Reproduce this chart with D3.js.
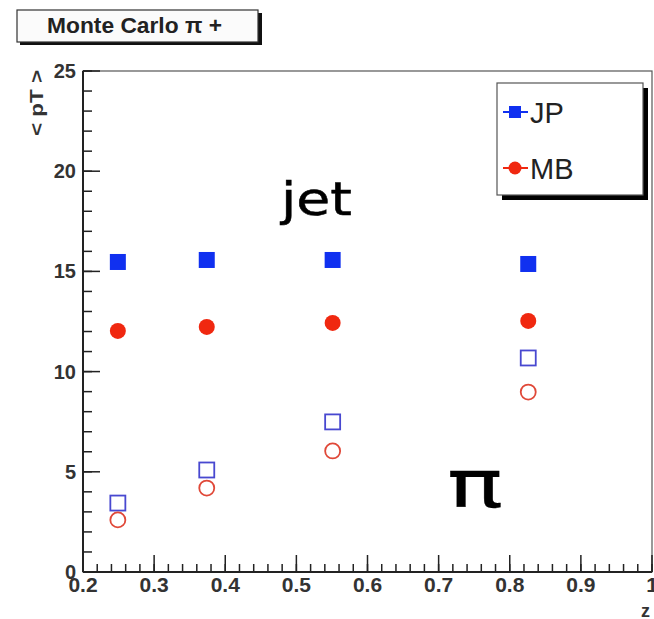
<!DOCTYPE html>
<html>
<head>
<meta charset="utf-8">
<script src="https://cdn.jsdelivr.net/npm/d3@7"></script>
<style>
  html, body { margin: 0; padding: 0; background: #fff; }
  svg { display: block; }
</style>
</head>
<body>
<svg id="chart" width="654" height="619"></svg>
<script>
// Mean transverse momentum vs z, Monte Carlo pi+
const zBins = [0.249, 0.374, 0.551, 0.826];
const jpJet = [15.47, 15.57, 15.57, 15.37];   // JP trigger, jet <pT>
const mbJet = [12.03, 12.23, 12.43, 12.53];   // MB trigger, jet <pT>
const jpPi  = [3.44, 5.09, 7.49, 10.68];      // JP trigger, pion <pT>
const mbPi  = [2.60, 4.19, 6.04, 8.98];       // MB trigger, pion <pT>
const xTicks = [0.2, 0.3, 0.4, 0.5, 0.6, 0.7, 0.8, 0.9, 1];
const yTicks = [0, 5, 10, 15, 20, 25];
const legendLabels = ["JP", "MB"];

const BLUE = "#1030f0", RED = "#f02810";
const BLUE_OPEN = "#4848d0", RED_OPEN = "#e04838";

const svg = d3.select("#chart");
const frameL = 83, frameR = 652, frameT = 71, frameB = 572;

const x = d3.scaleLinear().domain([0.2, 1]).range([frameL, frameR]);
const y = d3.scaleLinear().domain([0, 25]).range([frameB, frameT]);

// Title box with drop shadow
const tb = svg.append("g");
tb.append("rect").attr("x", 20).attr("y", 13).attr("width", 242).attr("height", 32).attr("fill", "#111");
tb.append("rect").attr("x", 17).attr("y", 10).attr("width", 241).attr("height", 32)
  .attr("fill", "#fbfbfb").attr("stroke", "#333").attr("stroke-width", 1.2);
tb.append("text").attr("x", 47).attr("y", 33)
  .attr("font-family", "Liberation Sans, Arial, sans-serif").attr("font-weight", "bold")
  .attr("font-size", 22).attr("textLength", 175).attr("lengthAdjust", "spacingAndGlyphs")
  .attr("fill", "#222").text("Monte Carlo \u03c0 +");

// Frame
svg.append("rect").attr("x", frameL).attr("y", frameT).attr("width", frameR - frameL).attr("height", frameB - frameT)
  .attr("fill", "none").attr("stroke", "#555").attr("stroke-width", 1.2);

// Axes: major and minor ticks pointing inward
const axisColor = "#222";
const xMinor = d3.range(0.2, 1.0001, 0.02).map(v => +v.toFixed(2));
const yMinor = d3.range(0, 25.0001, 1);

const gx = svg.append("g");
gx.append("line").attr("x1", frameL).attr("x2", frameR).attr("y1", frameB).attr("y2", frameB)
  .attr("stroke", axisColor).attr("stroke-width", 2);
gx.selectAll("line.minor").data(xMinor).join("line").attr("class", "minor")
  .attr("x1", d => x(d)).attr("x2", d => x(d)).attr("y1", frameB).attr("y2", frameB - 8)
  .attr("stroke", axisColor).attr("stroke-width", 1.5);
gx.selectAll("line.major").data(xTicks).join("line").attr("class", "major")
  .attr("x1", d => x(d)).attr("x2", d => x(d)).attr("y1", frameB).attr("y2", frameB - 17)
  .attr("stroke", axisColor).attr("stroke-width", 1.5);
gx.selectAll("text").data(xTicks).join("text")
  .attr("x", d => x(d)).attr("y", 592).attr("text-anchor", "middle")
  .attr("font-family", "Liberation Sans, Arial, sans-serif").attr("font-weight", "bold")
  .attr("font-size", 21).attr("fill", "#333").text(d => d === 1 ? "1" : d3.format(".1f")(d));

const gy = svg.append("g");
gy.append("line").attr("x1", frameL).attr("x2", frameL).attr("y1", frameT).attr("y2", frameB)
  .attr("stroke", axisColor).attr("stroke-width", 2);
gy.selectAll("line.minor").data(yMinor).join("line").attr("class", "minor")
  .attr("x1", frameL).attr("x2", frameL + 9).attr("y1", d => y(d)).attr("y2", d => y(d))
  .attr("stroke", axisColor).attr("stroke-width", 1.5);
gy.selectAll("line.major").data(yTicks).join("line").attr("class", "major")
  .attr("x1", frameL).attr("x2", frameL + 17).attr("y1", d => y(d)).attr("y2", d => y(d))
  .attr("stroke", axisColor).attr("stroke-width", 1.5);
gy.selectAll("text").data(yTicks).join("text")
  .attr("x", 76).attr("y", d => y(d) + 7).attr("text-anchor", "end")
  .attr("font-family", "Liberation Sans, Arial, sans-serif").attr("font-weight", "bold")
  .attr("font-size", 20).attr("fill", "#333").text(d => d);

// Axis titles
svg.append("text").attr("transform", "translate(43,70) rotate(-90)").attr("text-anchor", "end")
  .attr("font-family", "Liberation Sans, Arial, sans-serif").attr("font-weight", "bold")
  .attr("font-size", 19).attr("textLength", 66).attr("lengthAdjust", "spacingAndGlyphs")
  .attr("fill", "#333").text("< pT >");
svg.append("text").attr("x", 641).attr("y", 617)
  .attr("font-family", "Liberation Sans, Arial, sans-serif").attr("font-weight", "bold")
  .attr("font-size", 18).attr("fill", "#333").text("z");

// Markers
const plot = svg.append("g");
const sq = 16, sqOpen = 15, r = 8, rOpen = 7.5;
function squares(vals, filled) {
  const s = filled ? sq : sqOpen;
  plot.append("g").selectAll("rect").data(vals).join("rect")
    .attr("x", (d, i) => x(zBins[i]) - s / 2).attr("y", d => y(d) - s / 2)
    .attr("width", s).attr("height", s)
    .attr("fill", filled ? BLUE : "none")
    .attr("stroke", filled ? "none" : BLUE_OPEN).attr("stroke-width", 1.8);
}
function circles(vals, filled) {
  plot.append("g").selectAll("circle").data(vals).join("circle")
    .attr("cx", (d, i) => x(zBins[i])).attr("cy", d => y(d))
    .attr("r", filled ? r : rOpen)
    .attr("fill", filled ? RED : "none")
    .attr("stroke", filled ? "none" : RED_OPEN).attr("stroke-width", 1.8);
}
squares(jpJet, true);
circles(mbJet, true);
squares(jpPi, false);
circles(mbPi, false);

// Annotations
svg.append("text").attr("x", 281).attr("y", 215)
  .attr("font-family", "DejaVu Sans, sans-serif").attr("font-size", 47)
  .attr("textLength", 71).attr("lengthAdjust", "spacingAndGlyphs")
  .attr("fill", "#000").attr("stroke", "#000").attr("stroke-width", 0.5).text("jet");
svg.append("text").attr("x", 447).attr("y", 507)
  .attr("font-family", "DejaVu Sans, sans-serif").attr("font-size", 66)
  .attr("textLength", 56).attr("lengthAdjust", "spacingAndGlyphs")
  .attr("fill", "#000").attr("stroke", "#000").attr("stroke-width", 0.3).text("\u03c0");

// Legend
const lg = svg.append("g");
lg.append("rect").attr("x", 502).attr("y", 88).attr("width", 146).attr("height", 112).attr("fill", "#000");
lg.append("rect").attr("x", 497).attr("y", 83).attr("width", 146).attr("height", 112)
  .attr("fill", "#fff").attr("stroke", "#555").attr("stroke-width", 1.2);
const legendRows = [
  { label: legendLabels[0], color: BLUE, shape: "square", yy: 112 },
  { label: legendLabels[1], color: RED, shape: "circle", yy: 168 }
];
legendRows.forEach(row => {
  lg.append("line").attr("x1", 503).attr("x2", 528).attr("y1", row.yy).attr("y2", row.yy)
    .attr("stroke", row.color).attr("stroke-width", 2);
  if (row.shape === "square") {
    lg.append("rect").attr("x", 509).attr("y", row.yy - 6).attr("width", 12).attr("height", 12).attr("fill", row.color);
  } else {
    lg.append("circle").attr("cx", 515).attr("cy", row.yy).attr("r", 6.5).attr("fill", row.color);
  }
  lg.append("text").attr("x", 530).attr("y", row.yy + 11)
    .attr("font-family", "Liberation Sans, Arial, sans-serif")
    .attr("font-size", 29).attr("fill", "#222").text(row.label);
});
</script>
</body>
</html>
